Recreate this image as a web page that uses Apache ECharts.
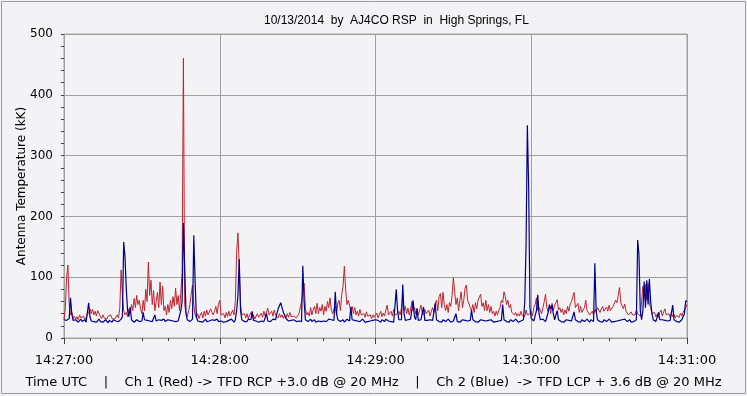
<!DOCTYPE html>
<html><head><meta charset="utf-8">
<script src="https://cdn.jsdelivr.net/npm/echarts@6/dist/echarts.min.js"></script>
<style>html,body{margin:0;padding:0;background:#F3F3F5;}#c{width:747px;height:396px;}</style>
</head><body><div id="c"></div>
<script>
// Sample interval in seconds from 14:27:00
var sampleStep = 0.5;
var xTickLabels = ['14:27:00','14:28:00','14:29:00','14:30:00','14:31:00'];
var yTicks = [0,100,200,300,400,500];
var titleText = '10/13/2014  by  AJ4CO RSP  in  High Springs, FL';
var yAxisName = 'Antenna Temperature (kK)';
var footerText = 'Time UTC    |    Ch 1 (Red) -> TFD RCP +3.0 dB @ 20 MHz    |    Ch 2 (Blue)  -> TFD LCP + 3.6 dB @ 20 MHz';

// Ch 1 (Red) antenna temperature, kK
var ch1Red = [
30,48,100,120,55,38,42,32,36,31,35,30,38,33,31,36,30,34,38,42,
48,40,47,38,44,36,45,40,36,32,38,33,35,31,36,33,38,32,35,31,
34,38,33,50,112,70,45,38,42,35,48,40,55,45,65,50,70,55,62,48,
40,62,45,80,60,125,70,95,55,78,45,60,75,50,92,55,85,45,52,38,
55,42,62,48,68,52,82,55,70,45,75,108,460,55,40,35,45,55,72,87,
55,38,33,40,32,38,42,33,44,36,46,38,35,48,42,38,45,52,40,55,
62,38,35,40,33,42,35,44,36,33,46,38,60,140,173,120,55,38,35,40,
33,40,32,38,42,33,38,31,36,40,34,32,41,34,44,36,34,49,38,35,
44,36,46,38,35,33,40,34,38,32,37,33,40,34,42,35,32,36,38,33,
35,40,38,60,75,90,48,38,42,36,50,38,47,52,40,57,40,50,44,55,
38,52,44,60,50,66,45,40,48,52,38,58,62,45,72,85,118,80,55,62,
64,45,52,40,50,38,44,36,47,38,35,40,34,43,36,33,38,32,38,34,
35,41,33,39,44,35,41,36,46,54,38,36,44,36,47,38,35,40,44,38,
50,70,45,52,40,49,38,46,60,44,50,40,49,38,46,54,42,38,47,40,
38,46,36,44,50,42,57,62,45,68,73,50,75,55,45,55,42,58,52,70,
99,75,55,66,45,62,76,50,62,82,87,62,65,50,45,55,42,58,48,62,
65,72,52,58,45,62,45,55,42,52,40,44,36,44,38,46,50,62,58,76,
68,55,62,50,55,42,45,38,42,36,40,36,44,37,40,35,46,38,35,40,
44,36,50,55,66,45,50,52,40,50,60,72,50,44,52,40,57,45,54,58,
63,46,50,42,48,38,46,40,52,44,56,60,68,75,50,48,57,42,52,42,
40,50,62,45,48,38,40,44,38,47,42,50,46,42,48,52,44,46,51,44,
54,45,48,52,55,62,58,70,83,58,60,48,56,44,42,38,40,43,38,40,
38,46,40,42,36,60,85,65,88,62,90,55,50,40,38,42,35,39,34,42,
46,36,43,48,38,35,40,34,41,35,39,33,37,38,34,41,36,42,45,50,55
];

// Ch 2 (Blue) antenna temperature, kK
var ch2Blue = [
30,28,29,27,32,66,40,29,27,30,28,26,29,31,27,28,30,26,29,58,
35,28,30,27,29,26,28,31,27,29,26,28,30,27,25,29,28,26,30,27,
28,30,27,29,31,35,158,133,80,45,35,51,30,28,26,29,30,28,27,29,
28,42,30,27,29,26,28,30,27,29,38,28,26,30,27,29,28,31,27,28,
30,27,29,26,28,31,27,30,28,29,45,60,189,115,40,30,28,27,29,31,
169,93,35,28,30,27,29,26,28,31,27,29,28,26,30,27,29,28,31,27,
29,28,30,26,28,27,30,29,27,31,28,26,30,45,70,130,45,30,28,27,
29,27,31,28,30,44,29,27,28,30,26,29,28,31,27,29,40,28,30,27,
29,31,28,30,40,48,45,58,50,42,38,32,30,28,27,29,26,30,28,27,
29,28,30,27,119,60,30,28,27,29,31,27,28,30,26,29,28,31,27,29,
28,30,27,29,31,28,30,27,29,76,40,30,28,27,29,30,26,28,31,29,
28,51,30,27,29,26,28,30,27,29,31,28,26,29,27,30,28,26,29,28,
30,27,29,28,26,30,28,27,31,29,28,30,27,29,26,28,80,45,30,28,
30,88,40,29,27,30,28,31,28,62,35,30,48,29,27,30,28,51,29,27,
29,28,30,27,29,31,57,30,28,27,29,26,30,28,27,29,31,28,26,29,
28,30,40,27,29,26,28,30,27,29,31,28,26,29,46,30,28,27,29,26,
28,30,27,29,31,28,26,29,27,30,28,26,29,27,30,28,31,29,55,30,
28,27,29,26,30,28,27,29,31,28,26,29,28,27,30,60,153,350,249,50,
32,29,28,27,45,71,40,30,28,31,29,27,30,42,55,48,54,40,30,28,
45,30,28,27,29,26,28,30,27,29,31,28,26,43,30,28,27,29,26,30,
28,27,29,31,28,26,30,28,27,123,45,30,28,27,29,26,30,28,27,29,
31,28,26,29,27,30,28,26,29,27,30,28,31,29,27,28,30,26,29,27,
28,30,161,137,45,30,45,93,50,95,55,97,60,40,30,28,27,29,42,30,
28,30,27,29,31,28,26,29,27,54,30,28,27,29,26,28,30,27,40,61,60
];

function pairs(arr){ return arr.map(function(v,i){ return [i*sampleStep, v]; }); }

var chart = echarts.init(document.getElementById('c'), null, {renderer:'canvas'});
var font = 'DejaVu Sans';
chart.setOption({
  animation:false,
  backgroundColor:'#F3F3F5',
  title:[
    {text:titleText, left:259, top:10, textStyle:{fontFamily:'Liberation Sans', fontSize:12, fontWeight:'normal', color:'#000'}},
    {text:footerText, left:'center', top:371, textStyle:{fontFamily:font, fontSize:13, fontWeight:'normal', color:'#000'}}
  ],
  graphic:[{type:'rect', shape:{x:1.5,y:1.5,width:744,height:392}, style:{fill:null, stroke:'#9A9A9A', lineWidth:1}, silent:true}],
  grid:{left:64, right:60, top:34, bottom:58, show:true, borderColor:'#A0A0A0', borderWidth:1, backgroundColor:'transparent'},
  xAxis:{
    type:'value', min:0, max:240, interval:60, offset:4,
    axisLine:{show:false},
    axisTick:{show:true, length:6, lineStyle:{color:'#404040'}},
    minorTick:{show:true, splitNumber:6, length:3, lineStyle:{color:'#404040'}},
    splitLine:{show:true, lineStyle:{color:'#A0A0A0', width:1}},
    axisLabel:{margin:12, fontFamily:font, fontSize:13, color:'#000', formatter:function(v){ return xTickLabels[Math.round(v/60)]; }}
  },
  yAxis:{
    type:'value', min:0, max:500, interval:100, offset:4,
    name:yAxisName, nameLocation:'middle', nameGap:32, nameRotate:90, nameMoveOverlap:false,
    nameTextStyle:{fontFamily:font, fontSize:12, color:'#000'},
    axisLine:{show:false},
    axisTick:{show:true, length:3, lineStyle:{color:'#404040'}},
    minorTick:{show:true, splitNumber:5, length:3, lineStyle:{color:'#404040'}},
    splitLine:{show:true, lineStyle:{color:'#A0A0A0', width:1}},
    axisLabel:{margin:7, fontFamily:font, fontSize:12, color:'#000', formatter:function(v){ return yTicks.indexOf(v) >= 0 ? String(v) : ''; }}
  },
  series:[
    {name:'Ch 1 (Red)', type:'line', data:pairs(ch1Red), showSymbol:false, symbol:'none', lineStyle:{color:'#C0232E', width:1}, z:2},
    {name:'Ch 2 (Blue)', type:'line', data:pairs(ch2Blue), showSymbol:false, symbol:'none', lineStyle:{color:'#00008C', width:1.2}, z:3}
  ]
});
</script></body></html>
